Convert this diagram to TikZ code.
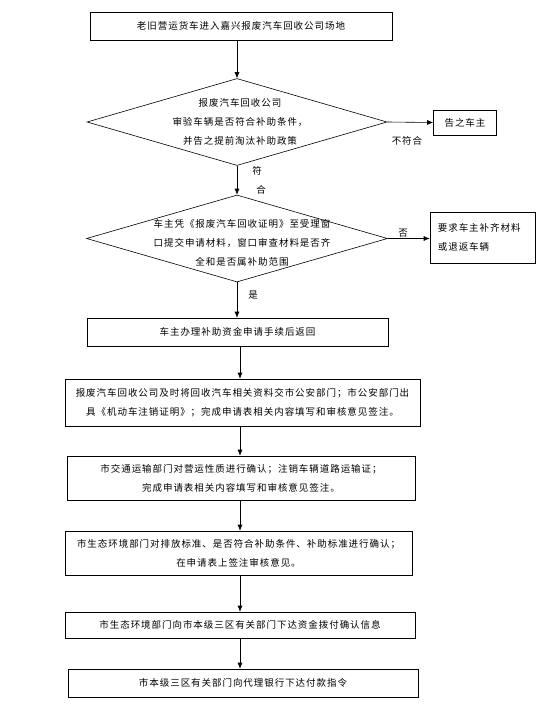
\documentclass[tikz,border=0pt]{standalone}
\usepackage{fontspec}
\newfontfamily\cjk{Noto Sans CJK SC}[LetterSpace=10]
\usetikzlibrary{arrows.meta,shapes.geometric}
\tikzset{
  stepbox/.style={draw, semithick, inner sep=0pt, align=center},
  choice/.style={draw, semithick, diamond, inner sep=0pt},
  arr/.style={semithick, -{Latex[length=6pt,width=5pt]}},
  txt/.style={inner sep=0pt, align=center},
}
\begin{document}
\begin{tikzpicture}[x=1pt, y=-1pt, font=\cjk\fontsize{9.5}{19}\selectfont]
    \useasboundingbox (0,0) rectangle (552,725);
    \coordinate (spine) at (240,0);

    % Start
    \node[stepbox, minimum width=302pt, minimum height=28pt] (start) at (241,26) {老旧营运货车进入嘉兴报废汽车回收公司场地};

    % First check
    \node[choice, minimum width=300pt, minimum height=87pt] (chk1) at (237,122) {};
    \node[txt] (chk1txt) at (240,122) {报废汽车回收公司\\审验车辆是否符合补助条件，\\并告之提前淘汰补助政策};
    \node[stepbox, minimum width=63pt, minimum height=25pt] (tell) at (465,122.5) {告之车主};

    % Second check
    \node[choice, minimum width=301pt, minimum height=87pt] (chk2) at (237,238.5) {};
    \node[txt] (chk2txt) at (242,242.5) {车主凭《报废汽车回收证明》至受理窗\\口提交申请材料，窗口审查材料是否齐\\全和是否属补助范围};
    \node[stepbox, align=left, minimum width=105pt, minimum height=51pt] (req) at (482.5,237.5) {要求车主补齐材料\\或退返车辆\hspace{18pt}\phantom{材料}};

    % Steps
    \node[stepbox, minimum width=301pt, minimum height=28pt] (apply) at (237.5,332) {车主办理补助资金申请手续后返回};
    \node[stepbox, minimum width=355pt, minimum height=47pt] (police) at (242.5,402.5) {报废汽车回收公司及时将回收汽车相关资料交市公安部门；市公安部门出\\具《机动车注销证明》；完成申请表相关内容填写和审核意见签注。};
    \node[stepbox, minimum width=348pt, minimum height=44pt] (transport) at (241,478) {市交通运输部门对营运性质进行确认；注销车辆道路运输证；\\完成申请表相关内容填写和审核意见签注。};
    \node[stepbox, minimum width=347pt, minimum height=44pt] (ecology) at (238.5,553) {市生态环境部门对排放标准、是否符合补助条件、补助标准进行确认；\\在申请表上签注审核意见。};
    \node[stepbox, minimum width=350pt, minimum height=26pt] (notice) at (240,625) {市生态环境部门向市本级三区有关部门下达资金拨付确认信息};
    \node[stepbox, minimum width=350pt, minimum height=28pt] (pay) at (243,683) {市本级三区有关部门向代理银行下达付款指令};

    % Connectors
    \draw[arr] (chk1.north |- start.south) -- (chk1.north);
    \draw[arr] (chk1.east) -- (tell.west);
    \draw[arr] (chk1.south) -- (chk2.north);
    \draw[arr] (chk2.east) -- (req.west |- chk2.east);
    \draw[arr] (chk2.south) -- (chk2.south |- apply.north);
    \draw[arr] (apply.south -| spine) -- (police.north -| spine);
    \draw[arr] (police.south -| spine) -- (transport.north -| spine);
    \draw[arr] (transport.south -| spine) -- (ecology.north -| spine);
    \draw[arr] (ecology.south -| spine) -- (notice.north -| spine);
    \draw[arr] (notice.south -| spine) -- (pay.north -| spine);

    % Labels
    \node[txt] (lblno1) at (407,141) {不符合};
    \node[txt, align=left] (lblyes1) at (259,180) {符\\\hspace{4pt}合};
    \node[txt] (lblno2) at (403,233) {否};
    \node[txt] (lblyes2) at (253,295) {是};
\end{tikzpicture}
\end{document}
